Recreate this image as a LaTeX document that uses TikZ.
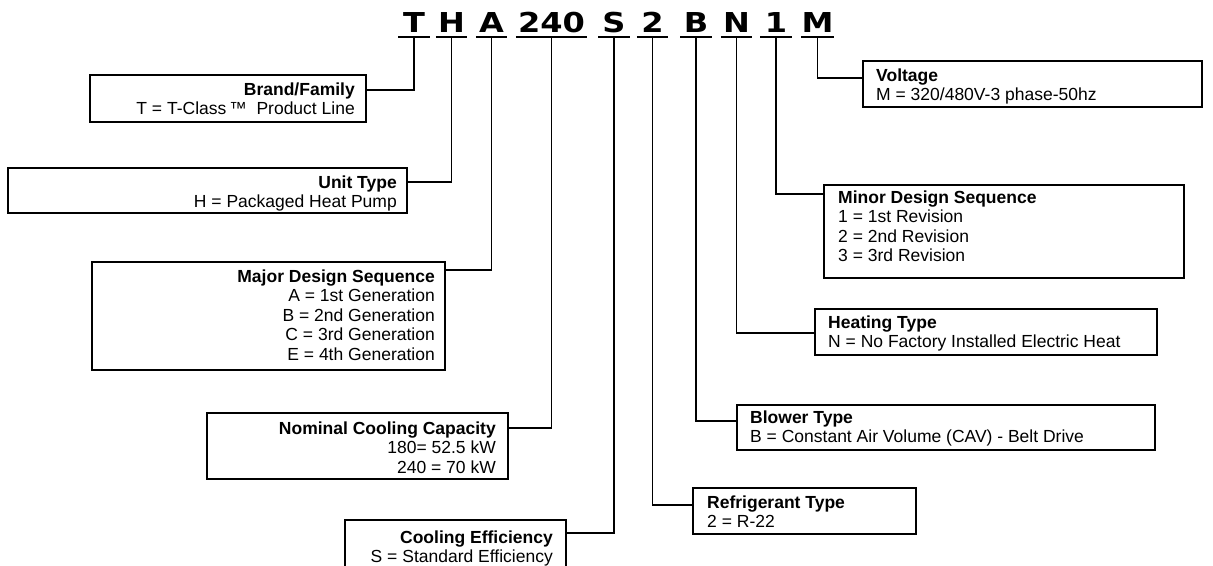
\documentclass[tikz,border=0pt]{standalone}
\usepackage{fontspec}
\setmainfont{Liberation Sans}
\newfontfamily\codefont{DejaVu Sans}
\usetikzlibrary{fit}
\tikzset{
  box/.style={draw, line width=1.6pt, inner sep=0pt, rectangle},
  conn/.style={draw, line width=1.8pt},
  rule/.style={draw, line width=1.8pt},
  code/.style={font={\codefont\bfseries\fontsize{27.4}{30}\selectfont}, anchor=base, inner xsep=0pt, inner ysep=5pt, text depth=0pt, minimum width=31pt},
  lbl/.style={font={\fontsize{17.5}{19.5}\selectfont}, inner sep=0pt},
}
\newcommand{\rtab}[1]{\begin{tabular}[t]{@{}r@{}}#1\end{tabular}}
\newcommand{\ltab}[1]{\begin{tabular}[t]{@{}l@{}}#1\end{tabular}}
\newcommand{\wide}[1]{\scalebox{1.17}[1]{#1}}
\begin{document}
\begin{tikzpicture}[x=1pt,y=-1pt]
\fill[white] (0,0) rectangle (1213,565);
\useasboundingbox (0,0) rectangle (1213,565);

% code letters
\node[code] (T)    at (414,32)   {\wide{T}};
\node[code] (H)    at (451.5,32) {\wide{H}};
\node[code] (A)    at (491.5,32) {\wide{A}};
\node[code, minimum width=71pt] (C240) at (551.5,32) {\wide{240}};
\node[code] (S)    at (614,32)   {\wide{S}};
\node[code] (R2)   at (652.5,32) {\wide{2}};
\node[code] (B)    at (696,32)   {\wide{B}};
\node[code] (N)    at (736.5,32) {\wide{N}};
\node[code] (D1)   at (776,32)   {\wide{1}};
\node[code] (M)    at (817.5,32) {\wide{M}};
\foreach \n in {T,H,A,C240,S,R2,B,N,D1,M}
  \draw[rule] (\n.south west) -- (\n.south east);

% left boxes
\node[box, fit={(90,75)(366,122)}] (brand) {};
\node[box, fit={(8,168)(407,213)}] (unit) {};
\node[box, fit={(92,262)(445,370)}] (major) {};
\node[box, fit={(207,413)(508,479)}] (nominal) {};
\node[box, fit={(345,520)(566,580)}] (eff) {};

% right boxes
\node[box, fit={(863,61)(1202,107)}] (volt) {};
\node[box, fit={(824,185)(1184,278)}] (minor) {};
\node[box, fit={(815,309)(1157,355)}] (heat) {};
\node[box, fit={(737,405)(1155,450)}] (blower) {};
\node[box, fit={(693,488)(916,534)}] (refr) {};

% texts
\node[lbl, anchor=base east] (brandtxt) at (355,95) {\rtab{\textbf{Brand/Family}\\ T = T-Class\,™~~Product Line}};
\node[lbl, anchor=base east] (unittxt) at (397,188) {\rtab{\textbf{Unit Type}\\ H = Packaged Heat Pump}};
\node[lbl, anchor=base east] (majortxt) at (435,282) {\rtab{\textbf{Major Design Sequence}\\ A = 1st Generation\\ B = 2nd Generation\\ C = 3rd Generation\\ E = 4th Generation}};
\node[lbl, anchor=base east] (nominaltxt) at (496,434) {\rtab{\textbf{Nominal Cooling Capacity}\\ 180= 52.5 kW\\ 240 = 70 kW}};
\node[lbl, anchor=base east] (efftxt) at (553,543) {\rtab{\textbf{Cooling Efficiency}\\ S = Standard Efficiency}};

\node[lbl, anchor=base west] (volttxt) at (876,81) {\ltab{\textbf{Voltage}\\ M = 320/480V-3 phase-50hz}};
\node[lbl, anchor=base west] (minortxt) at (838,203) {\ltab{\textbf{Minor Design Sequence}\\ 1 = 1st Revision\\ 2 = 2nd Revision\\ 3 = 3rd Revision}};
\node[lbl, anchor=base west] (heattxt) at (828,328) {\ltab{\textbf{Heating Type}\\ N = No Factory Installed Electric Heat}};
\node[lbl, anchor=base west] (blowertxt) at (750,423) {\ltab{\textbf{Blower Type}\\ B = Constant Air Volume (CAV) - Belt Drive}};
\node[lbl, anchor=base west] (refrtxt) at (707,508) {\ltab{\textbf{Refrigerant Type}\\ 2 = R-22}};

% connectors
\draw[conn] (brand.east |- 0,90) -| (T.south);
\draw[conn] (unit.east |- 0,182) -| (H.south);
\draw[conn] (major.east |- 0,270) -| (A.south);
\draw[conn] (nominal.east |- 0,428) -| (C240.south);
\draw[conn] (eff.east |- 0,533) -| (S.south);
\draw[conn] (M.south) |- (volt.west |- 0,78);
\draw[conn] (D1.south) |- (minor.west |- 0,194);
\draw[conn] (N.south) |- (heat.west |- 0,333);
\draw[conn] (B.south) |- (blower.west |- 0,421);
\draw[conn] (R2.south) |- (refr.west |- 0,505);
\end{tikzpicture}
\end{document}
